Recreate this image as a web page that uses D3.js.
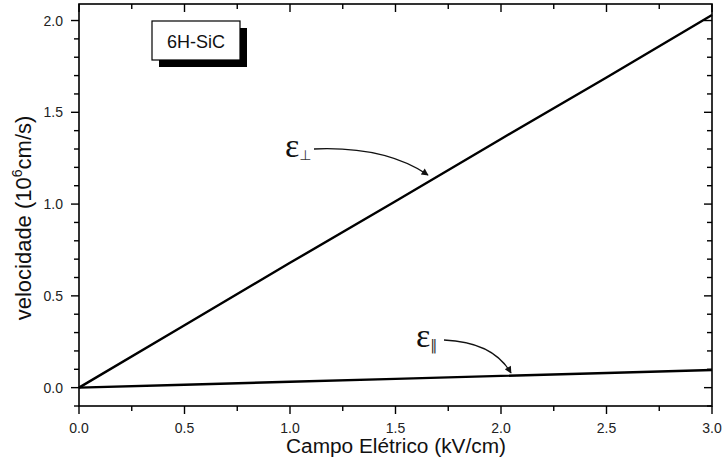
<!DOCTYPE html>
<html>
<head>
<meta charset="utf-8">
<script src="https://cdn.jsdelivr.net/npm/d3@7"></script>
<style>
	body { margin: 0; background: #fff; }
	svg { display: block; font-family: "Liberation Sans", Arial, sans-serif; }
	.tick-label { font-size: 14px; fill: #222; }
	.axis-title { font-size: 20px; fill: #111; }
	.eps { font-family: "Liberation Serif", "DejaVu Serif", serif; fill: #111; }
</style>
</head>
<body>
<svg id="chart" width="725" height="465"></svg>
<script>
/* global d3 */

// values
const field = [0, 0.5, 1.0, 1.5, 2.0, 2.5, 3.0];
const vPerp = [0, 0.34, 0.68, 1.015, 1.355, 1.69, 2.03];
const vPar = [0, 0.016, 0.032, 0.048, 0.064, 0.08, 0.096];
const xTicks = [0, 0.5, 1.0, 1.5, 2.0, 2.5, 3.0];
const yTicks = [0, 0.5, 1.0, 1.5, 2.0];
const sampleName = "6H-SiC";

const svg = d3.select("#chart");
const plotLeft = 79, plotRight = 712, plotTop = 4, plotBottom = 406;

const x = d3.scaleLinear([0, 3], [plotLeft, plotRight]);
const y = d3.scaleLinear([-0.1, 2.09], [plotBottom, plotTop]);

const xMinor = d3.range(0, 3.001, 0.25);
const yMinor = d3.range(-0.1, 2.091, 0.1);

// frame
svg.append("rect")
	.attr("x", plotLeft).attr("y", plotTop)
	.attr("width", plotRight - plotLeft).attr("height", plotBottom - plotTop)
	.attr("fill", "none").attr("stroke", "#000").attr("stroke-width", 1.6);

function isMajor(v, step) {
	return Math.abs(v / step - Math.round(v / step)) < 1e-6;
}

const ticks = svg.append("g").attr("stroke", "#000").attr("stroke-width", 1.4);
// bottom (outward) and top (inward)
for (const v of xMinor) {
	const len = isMajor(v, 0.5) ? 8 : 5;
	ticks.append("line").attr("x1", x(v)).attr("x2", x(v)).attr("y1", plotBottom).attr("y2", plotBottom + len);
	ticks.append("line").attr("x1", x(v)).attr("x2", x(v)).attr("y1", plotTop).attr("y2", plotTop + len);
}
// left (outward) and right (inward)
for (const v of yMinor) {
	const len = isMajor(v, 0.5) ? 8 : 5;
	ticks.append("line").attr("y1", y(v)).attr("y2", y(v)).attr("x1", plotLeft).attr("x2", plotLeft - len);
	ticks.append("line").attr("y1", y(v)).attr("y2", y(v)).attr("x1", plotRight).attr("x2", plotRight - len);
}

svg.append("g").selectAll("text").data(xTicks).join("text")
	.attr("class", "tick-label")
	.attr("x", (d) => x(d)).attr("y", 433)
	.attr("text-anchor", "middle")
	.text((d) => d.toFixed(1));

svg.append("g").selectAll("text").data(yTicks).join("text")
	.attr("class", "tick-label")
	.attr("x", 63).attr("y", (d) => y(d) + 5)
	.attr("text-anchor", "end")
	.text((d) => d.toFixed(1));

// axis titles
svg.append("text").attr("class", "axis-title")
	.attr("x", 396).attr("y", 453)
	.attr("text-anchor", "middle")
	.attr("textLength", 220).attr("lengthAdjust", "spacingAndGlyphs")
	.text("Campo Elétrico (kV/cm)");

const yTitle = svg.append("text").attr("class", "axis-title")
	.attr("transform", "translate(31,218) rotate(-90)")
	.attr("text-anchor", "middle")
	.style("font-size", "22px");
yTitle.append("tspan").text("velocidade (10");
yTitle.append("tspan").style("font-size", "14px").attr("dy", -9).text("6");
yTitle.append("tspan").attr("dy", 9).text("cm/s)");

// lines
const line = d3.line().x((d) => x(d[0])).y((d) => y(d[1]));
svg.append("path").datum(d3.zip(field, vPerp))
	.attr("d", line).attr("fill", "none").attr("stroke", "#000").attr("stroke-width", 2.4);
svg.append("path").datum(d3.zip(field, vPar))
	.attr("d", line).attr("fill", "none").attr("stroke", "#000").attr("stroke-width", 2.4);

// sample label box with shadow
svg.append("rect").attr("x", 159).attr("y", 28).attr("width", 88).attr("height", 39).attr("fill", "#000");
svg.append("rect").attr("x", 152).attr("y", 21).attr("width", 88).attr("height", 39)
	.attr("fill", "#fff").attr("stroke", "#000").attr("stroke-width", 1.2);
svg.append("text").attr("x", 196).attr("y", 48).attr("text-anchor", "middle")
	.attr("font-size", 18).attr("fill", "#111").text(sampleName);

// arrow annotations
const defs = svg.append("defs");
defs.append("marker").attr("id", "head").attr("viewBox", "0 0 10 10")
	.attr("refX", 9).attr("refY", 5).attr("markerWidth", 9).attr("markerHeight", 7)
	.attr("orient", "auto").attr("markerUnits", "userSpaceOnUse")
	.append("path").attr("d", "M0,0L10,5L0,10Z").attr("fill", "#111");

function label(px, py, sub) {
	const t = svg.append("text").attr("class", "eps").attr("x", px).attr("y", py);
	t.append("tspan").attr("font-size", 34).text("ε");
	t.append("tspan").attr("font-size", 14).attr("dy", 3)
		.attr("font-family", "'DejaVu Sans', sans-serif").attr("fill", "#333").text(sub);
}
label(285, 157, "⊥");
label(416, 347, "‖");

svg.append("path").attr("d", "M314,149 Q385,146 428,175")
	.attr("fill", "none").attr("stroke", "#111").attr("stroke-width", 1.3).attr("marker-end", "url(#head)");
svg.append("path").attr("d", "M444,340 Q493,342 511,373")
	.attr("fill", "none").attr("stroke", "#111").attr("stroke-width", 1.3).attr("marker-end", "url(#head)");
</script>
</body>
</html>
